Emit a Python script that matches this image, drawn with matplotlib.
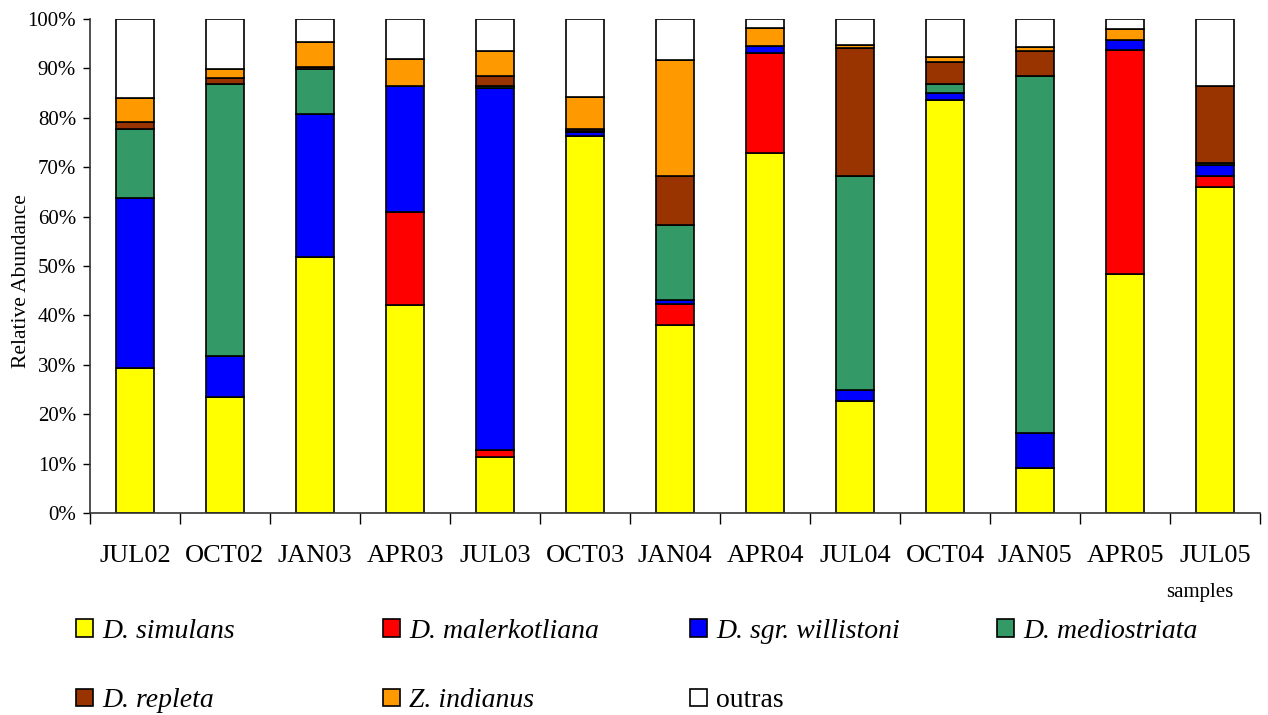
import numpy as np
import matplotlib
matplotlib.use("Agg")
import matplotlib.pyplot as plt
from matplotlib.patches import Patch

plt.rcParams["font.family"] = ["Liberation Serif", "DejaVu Serif"]

# ------------------------------
# Data (relative abundance, %)
# ------------------------------
samples = ["JUL02", "OCT02", "JAN03", "APR03", "JUL03", "OCT03", "JAN04",
           "APR04", "JUL04", "OCT04", "JAN05", "APR05", "JUL05"]

simulans = [29.3, 23.5, 51.8, 42.1, 11.3, 76.4, 38.1, 72.9, 22.7, 83.6, 9.2, 48.4, 66.0]
malerkotliana = [0, 0, 0, 18.8, 1.4, 0, 4.3, 20.2, 0, 0, 0, 45.4, 2.2]
willistoni = [34.5, 8.3, 28.9, 25.6, 73.3, 0.7, 0.8, 1.5, 2.2, 1.5, 6.9, 2.0, 2.3]
mediostriata = [13.9, 55.1, 9.2, 0, 0.5, 0.3, 15.1, 0, 43.4, 1.7, 72.4, 0, 0.4]
repleta = [1.5, 1.1, 0.4, 0, 1.9, 0.3, 10.0, 0, 25.9, 4.5, 5.1, 0, 15.6]
indianus = [4.8, 1.9, 5.0, 5.5, 5.1, 6.6, 23.4, 3.6, 0.5, 1.1, 0.7, 2.2, 0]
outras = [16.0, 10.1, 4.7, 8.0, 6.5, 15.7, 8.3, 1.8, 5.3, 7.6, 5.7, 2.0, 13.5]

series = [
    ("D. simulans", simulans, "#FFFF00", True),
    ("D. malerkotliana", malerkotliana, "#FF0000", True),
    ("D. sgr. willistoni", willistoni, "#0000FF", True),
    ("D. mediostriata", mediostriata, "#339966", True),
    ("D. repleta", repleta, "#993300", True),
    ("Z. indianus", indianus, "#FF9900", True),
    ("outras", outras, "#FFFFFF", False),
]

W, H = 1268, 715


def main():
    fig = plt.figure(figsize=(W / 100, H / 100), dpi=100)
    ax = fig.add_axes([90 / W, 1 - 513 / H, 1170 / W, 494 / H])

    x = np.arange(len(samples))
    bottom = np.zeros(len(samples))
    for name, vals, color, _ in series:
        vals = np.array(vals, dtype=float)
        ax.bar(x, vals, width=0.42, bottom=bottom, color=color,
               edgecolor="black", linewidth=1.2)
        bottom += vals

    ax.set_xlim(-0.5, len(samples) - 0.5)
    ax.set_ylim(0, 100)

    # y axis
    ax.set_yticks(np.arange(0, 101, 10))
    ax.set_yticklabels([f"{v}%" for v in range(0, 101, 10)], fontsize=15)
    ax.tick_params(axis="y", direction="out", length=5, width=1, pad=5)
    ax.set_ylabel("Relative Abundance", fontsize=15.5)
    ax.yaxis.set_label_coords(-0.05, 0.47)

    # x axis: labels at bar centres, tick marks at boundaries
    ax.set_xticks(x)
    ax.set_xticklabels(samples, fontsize=19)
    ax.tick_params(axis="x", which="major", length=0, pad=23)
    ax.set_xticks(np.arange(-0.5, len(samples), 1), minor=True)
    ax.tick_params(axis="x", which="minor", direction="out", length=8, width=1)

    for s in ["top", "right"]:
        ax.spines[s].set_visible(False)
    for s in ["left", "bottom"]:
        ax.spines[s].set_color("#333333")
        ax.spines[s].set_linewidth(1.2)

    fig.text(1200 / W, 1 - 592 / H, "samples", fontsize=15,
             ha="center", va="center")

    # legend, laid out in four columns
    col_x = [76, 383, 690, 997]
    columns = [[0, 4], [1, 5], [2, 6], [3]]
    for cx, idx in zip(col_x, columns):
        handles = [Patch(facecolor=series[i][2], edgecolor="black", linewidth=1.2)
                   for i in idx]
        labels = [series[i][0] for i in idx]
        leg = fig.legend(handles, labels, loc="upper left",
                         bbox_to_anchor=(cx / W, 1 - 619 / H),
                         frameon=False, fontsize=20, borderpad=0,
                         borderaxespad=0, handlelength=0.6, handleheight=0.6,
                         handletextpad=0.33, labelspacing=1.6)
        for t, i in zip(leg.get_texts(), idx):
            if series[i][3]:
                t.set_style("italic")

    fig.savefig("out.png", dpi=100)
    plt.close(fig)


if __name__ == "__main__":
    main()
